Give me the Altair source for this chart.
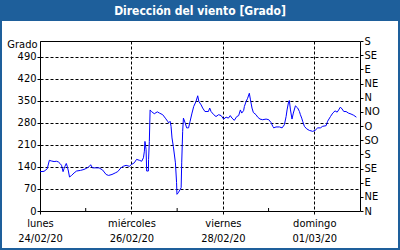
import altair as alt
import pandas as pd

# hours since 24/02/20 00:00
hours = [0, 2.1, 3.8, 4.9, 5.9, 7.4, 8.6, 9.6, 10.5, 11.3,
         12.1, 12.6, 13.1, 13.8, 14.3, 14.9, 15.5, 16.6, 17.9, 19.2,
         21.3, 23.1, 24.8, 26.0, 26.6, 27.5, 29.2, 31.0, 32.9, 34.7,
         36.0, 37.8, 39.5, 40.8, 42.5, 43.7, 45.2, 46.9, 48.1, 49.5,
         50.7, 52.2, 53.4, 54.3, 54.8, 55.1, 55.7, 56.0, 56.9, 57.0,
         57.4, 57.8, 58.5, 60.0, 61.6, 62.7, 64.4, 65.8, 67.0, 67.5,
         68.3, 68.8, 69.3, 70.0, 71.1, 71.7, 71.9, 72.6, 74.1, 74.4,
         74.9, 75.3, 76.2, 77.0, 78.0, 78.8, 79.8, 80.7, 81.9, 82.8,
         83.4, 84.6, 85.4, 86.6, 88.4, 89.1, 89.8, 91.2, 92.4, 93.8,
         95.1, 96.4, 97.7, 98.9, 99.9, 100.8, 102.0, 103.3, 104.3, 105.2,
         105.9, 106.9, 107.3, 108.2, 109.0, 109.9, 110.5, 111.3, 112.0, 113.4,
         114.3, 115.5, 116.9, 118.7, 120.1, 121.3, 122.2, 122.7, 123.9, 125.7,
         127.1, 128.3, 129.2, 129.7, 130.4, 130.9, 131.5, 132.3, 133.0, 134.1,
         135.3, 136.2, 136.7, 137.4, 137.9, 138.8, 140.0, 141.4, 143.2, 144.4,
         145.8, 147.2, 148.4, 150.2, 151.0, 152.5, 153.7, 154.9, 156.0, 156.8,
         157.7, 158.6, 159.5, 160.7, 161.9, 163.3, 164.7, 166.1]

degrees = [125, 126, 134, 161, 159, 157, 158, 156, 151, 145,
           125, 134, 142, 151, 142, 127, 108, 113, 121, 127,
           129, 132, 137, 142, 147, 137, 137, 137, 130, 116,
           113, 116, 121, 125, 137, 142, 145, 142, 148, 153,
           164, 161, 158, 169, 190, 221, 195, 127, 127, 164,
           221, 321, 316, 309, 315, 311, 306, 295, 285, 280,
           285, 269, 232, 205, 153, 90, 53, 58, 74, 153,
           253, 295, 280, 264, 264, 285, 311, 332, 348, 366,
           348, 337, 327, 316, 316, 327, 316, 306, 300, 306,
           303, 292, 298, 295, 303, 295, 288, 300, 303, 321,
           311, 319, 332, 348, 358, 374, 353, 327, 313, 306,
           298, 292, 290, 292, 290, 281, 269, 264, 267, 267,
           264, 274, 300, 321, 343, 351, 321, 292, 311, 334,
           327, 316, 306, 295, 285, 269, 261, 256, 253, 256,
           264, 264, 269, 271, 285, 300, 311, 318, 314, 321,
           330, 324, 316, 316, 311, 308, 304, 298]

left_ticks = [0, 70, 140, 210, 280, 350, 420, 490]
compass_ticks = [0, 45, 90, 135, 180, 225, 270, 315, 360, 405, 450, 495, 540]
compass_labels = ["N", "NE", "E", "SE", "S", "SO", "O", "NO", "N", "NE", "E", "SE", "S"]
day_ticks = [0, 48, 96, 144]
day_names = ["lunes", "miércoles", "viernes", "domingo"]
day_dates = ["24/02/20", "26/02/20", "28/02/20", "01/03/20"]
minor_ticks = [24, 72, 120]

FONT = "'DejaVu Sans Condensed', 'Liberation Sans', sans-serif"
BLUE_BAR = "#1e5f9b"

df = pd.DataFrame({"h": hours, "deg": degrees})
minor_df = pd.DataFrame({"h": minor_ticks})
one = pd.DataFrame({"a": [0]})

x_labels = "[" + ",".join(f"['{n}','{d}']" for n, d in zip(day_names, day_dates)) + "][round(datum.value/48)]"
c_labels = "[" + ",".join(f"'{c}'" for c in compass_labels) + "][round(datum.value/45)]"

x_axis = alt.Axis(values=day_ticks, labelExpr=x_labels, grid=True, gridDash=[3, 2],
                  gridColor="black", tickSize=3, tickColor="black", domain=False,
                  title=None, labelPadding=3, labelLineHeight=15, labelFlush=False,
                  labelOverlap=False, labelBound=False)
x_enc = alt.X("h:Q", scale=alt.Scale(domain=[0, 168], nice=False, zero=False), axis=x_axis)
y_scale = alt.Scale(domain=[0, 540], nice=False)

line = alt.Chart(df).mark_line(color="#0000ff", strokeWidth=1).encode(
    x=x_enc,
    y=alt.Y("deg:Q", scale=y_scale,
            axis=alt.Axis(values=left_ticks, grid=True, gridDash=[3, 2], gridColor="black",
                          tickSize=3, tickColor="black", domain=False, labelPadding=1,
                          title="Grado", titleAngle=0, titleAlign="right",
                          titleBaseline="middle", titleX=-3, titleY=3,
                          titleFontWeight="normal", titleFont=FONT, titleFontSize=11,
                          titleColor="black")),
)

right = alt.Chart(df).mark_point(opacity=0).encode(
    x=x_enc,
    y=alt.Y("deg:Q", scale=y_scale,
            axis=alt.Axis(orient="right", values=compass_ticks, labelExpr=c_labels,
                          grid=False, tickSize=3, tickColor="black", domain=False,
                          labelPadding=1, title=None)),
)

minor = alt.Chart(minor_df).mark_rule(color="black", strokeWidth=1).encode(
    x=x_enc, y=alt.value(167), y2=alt.value(170)
)

bar = alt.Chart(one).mark_rect(color=BLUE_BAR).encode(
    x=alt.value(-40), x2=alt.value(360), y=alt.value(-41), y2=alt.value(-20)
)
border = alt.Chart(one).mark_rect(fill=None, stroke=BLUE_BAR, strokeWidth=2).encode(
    x=alt.value(-39), x2=alt.value(359), y=alt.value(-40), y2=alt.value(208)
)
title = alt.Chart(one).mark_text(text="Dirección del viento [Grado]", color="white",
                                 font=FONT, fontSize=12, fontWeight="bold",
                                 baseline="middle", align="center").encode(
    x=alt.value(160), y=alt.value(-30)
)

chart = alt.layer(line, right, minor, bar, border, title).resolve_axis(
    y="independent"
).properties(
    width=320, height=170,
    autosize=alt.AutoSizeParams(type="none"),
    padding={"left": 40, "top": 41, "right": 40, "bottom": 39},
    background="white",
).configure_view(stroke="black", strokeWidth=1).configure_axis(
    labelFont=FONT, labelFontSize=11, labelColor="black"
)

chart.save("out.html", embed_options={"renderer": "svg", "actions": False})
